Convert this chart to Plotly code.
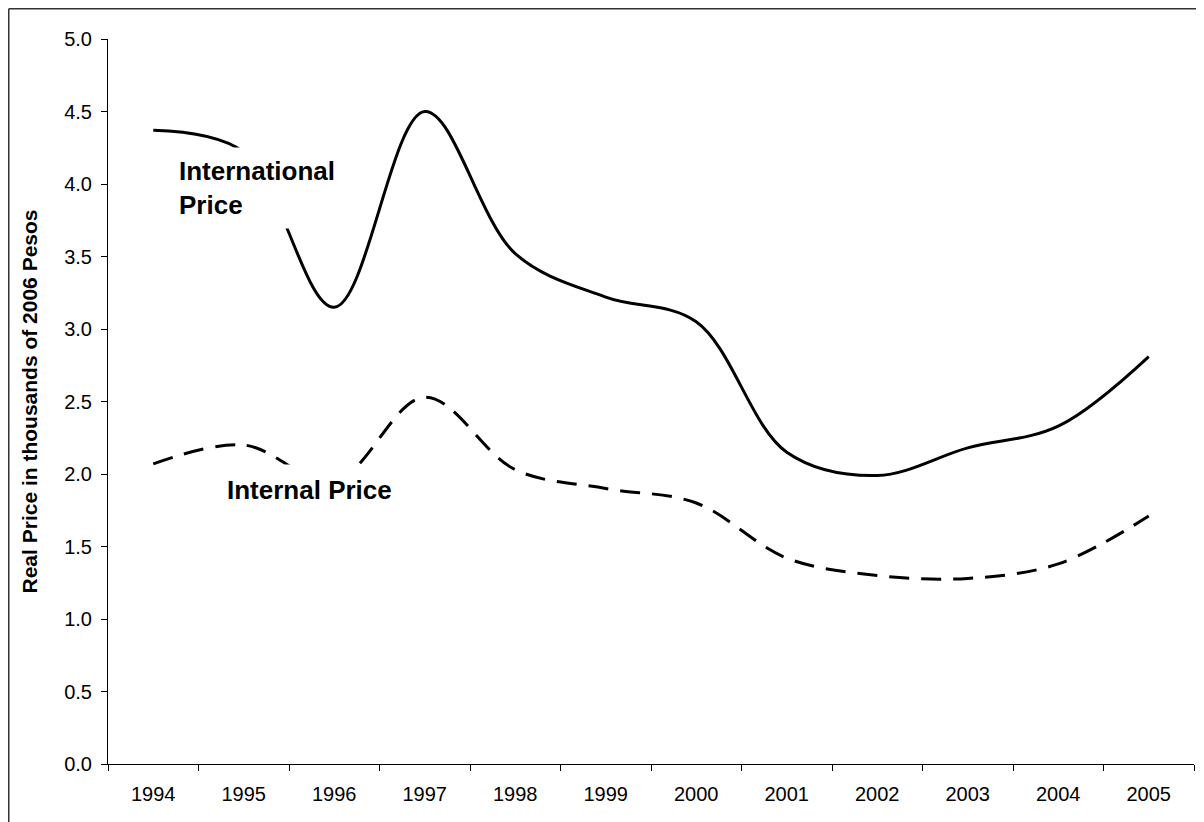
import plotly.graph_objects as go

years = ["1994", "1995", "1996", "1997", "1998", "1999", "2000", "2001", "2002", "2003", "2004", "2005"]
international = [4.37, 4.22, 3.15, 4.50, 3.52, 3.22, 3.05, 2.15, 1.99, 2.18, 2.33, 2.81]
internal = [2.07, 2.20, 1.95, 2.53, 2.03, 1.90, 1.80, 1.42, 1.30, 1.28, 1.38, 1.71]

# figure sits at (8, 8) in the page because of the body margin
W, H = 1196, 814
L, R, T, B = 100, 10, 31, 58
pw, ph = W - L - R, H - T - B

def px(x):
    return (x - L) / pw

def py(y):
    return 1 - (y - T) / ph

fig = go.Figure()
fig.add_trace(go.Scatter(x=years, y=international, mode="lines",
                         line=dict(color="black", width=3, shape="spline", smoothing=1.0),
                         showlegend=False, hoverinfo="x+y"))
fig.add_trace(go.Scatter(x=years, y=internal, mode="lines",
                         line=dict(color="black", width=3, shape="spline", smoothing=1.0, dash="20px,12px"),
                         showlegend=False, hoverinfo="x+y"))

font_main = "Liberation Sans, Arial, sans-serif"

fig.update_layout(
    width=W, height=H,
    margin=dict(l=L, r=R, t=T, b=B),
    paper_bgcolor="white", plot_bgcolor="white",
    font=dict(family=font_main, size=20, color="black"),
    xaxis=dict(type="category", tickson="boundaries", ticks="outside", ticklen=6,
               tickcolor="black", tickwidth=1, showline=True, linecolor="black", linewidth=1,
               showgrid=False, zeroline=False, tickfont=dict(size=20),
               range=[-0.5, 11.5], automargin=False, ticklabelstandoff=12),
    yaxis=dict(range=[0, 5], dtick=0.5, tick0=0, tickformat=".1f", ticks="outside",
               ticklen=6, tickcolor="black", showline=True, linecolor="black", linewidth=1,
               showgrid=False, zeroline=False, tickfont=dict(size=20),
               automargin=False, ticklabelstandoff=5,
               title=dict(text="<b>Real Price in thousands of 2006 Pesos</b>",
                          font=dict(size=21), standoff=20)),
    annotations=[
        dict(x=1.146, y=3.97, xref="x", yref="y", text="<b>International<br>Price</b>",
             showarrow=False, align="left", bgcolor="white", borderpad=8,
             font=dict(size=26, family=font_main)),
        dict(x=1.73, y=1.89, xref="x", yref="y", text="<b>Internal Price</b>",
             showarrow=False, align="left", bgcolor="white", borderpad=10,
             font=dict(size=26, family=font_main)),
    ],
    shapes=[
        dict(type="line", xref="paper", yref="paper", x0=px(0.75), x1=px(0.75), y0=py(H + 5), y1=py(0.75),
             line=dict(color="#333333", width=1.5)),
        dict(type="line", xref="paper", yref="paper", x0=px(0.75), x1=px(W + 5), y0=py(0.75), y1=py(0.75),
             line=dict(color="#333333", width=1.5)),
    ],
)

fig.write_html("out.html")
